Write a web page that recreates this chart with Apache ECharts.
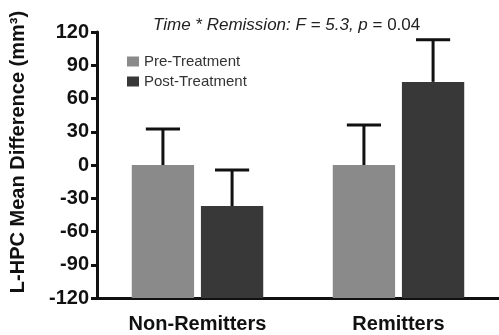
<!DOCTYPE html>
<html>
<head>
<meta charset="utf-8">
<script src="https://cdn.jsdelivr.net/npm/echarts@6/dist/echarts.min.js"></script>
<style>
  html, body { margin: 0; padding: 0; background: #fff; }
  #chart { width: 499px; height: 335px; }
</style>
</head>
<body>
<div id="chart"></div>
<script>
// Datos de la figura
const categories = ['Non-Remitters', 'Remitters'];
const preMean = [0, 0];
const preErr = [32.5, 36];
const postMean = [-37, 75];
const postErr = [32.5, 38];
const yTicks = [-120, -90, -60, -30, 0, 30, 60, 90, 120];

const yMin = yTicks[0];
const yMax = yTicks[yTicks.length - 1];

// Barras que arrancan desde el fondo del eje, con barra de error encima
function makeRender(offsetFactor) {
    return function (params, api) {
        const cat = api.value(0);
        const val = api.value(1);
        const err = api.value(2);
        const band = api.size([1, 0])[0];
        const barW = band * 0.31;
        const capW = band * 0.085;
        const cx = api.coord([cat, 0])[0] + offsetFactor * band;
        const yBase = api.coord([cat, yMin])[1];
        const yTop = api.coord([cat, val])[1];
        const yErr = api.coord([cat, val + err])[1];
        return {
            type: 'group',
            children: [
                {
                    type: 'rect',
                    shape: { x: cx - barW / 2, y: yTop, width: barW, height: yBase - yTop },
                    style: { fill: api.visual('color') }
                },
                {
                    type: 'line',
                    shape: { x1: cx, y1: yTop, x2: cx, y2: yErr },
                    style: { stroke: '#111', lineWidth: 3 }
                },
                {
                    type: 'line',
                    shape: { x1: cx - capW, y1: yErr, x2: cx + capW, y2: yErr },
                    style: { stroke: '#111', lineWidth: 3 }
                }
            ]
        };
    };
}

const chart = echarts.init(document.getElementById('chart'));

chart.setOption({
    animation: false,
    backgroundColor: '#fff',
    title: {
        left: 148,
        top: 12,
        text: '{i|Time * Remission: F = 5.3, p}{n| = 0.04}',
        textStyle: {
            fontWeight: 'normal',
            rich: {
                i: { fontFamily: 'Liberation Sans', fontStyle: 'italic', fontWeight: 'normal', fontSize: 17, color: '#222' },
                n: { fontFamily: 'Liberation Sans', fontWeight: 'normal', fontSize: 17, color: '#222' }
            }
        }
    },
    legend: {
        orient: 'vertical',
        left: 122,
        top: 49,
        icon: 'rect',
        itemWidth: 12,
        itemHeight: 10,
        itemGap: 5,
        textStyle: { fontFamily: 'Liberation Sans', fontSize: 15, color: '#333' },
        data: ['Pre-Treatment', 'Post-Treatment']
    },
    grid: { left: 97, right: 0, top: 32, bottom: 37, outerBoundsMode: 'none' },
    xAxis: {
        type: 'category',
        data: categories,
        axisLine: { onZero: false, lineStyle: { color: '#111', width: 3 } },
        axisTick: { alignWithLabel: true, length: 6, lineStyle: { color: '#111', width: 3 } },
        axisLabel: {
            margin: 16,
            fontFamily: 'Liberation Sans',
            fontWeight: 'bold',
            fontSize: 20,
            color: '#111'
        }
    },
    yAxis: {
        type: 'value',
        min: yMin,
        max: yMax,
        interval: 30,
        splitLine: { show: false },
        axisLine: { show: true, lineStyle: { color: '#111', width: 3 } },
        axisTick: { show: true, length: 6, lineStyle: { color: '#111', width: 3 } },
        axisLabel: {
            margin: 8,
            fontFamily: 'Liberation Sans',
            fontWeight: 'bold',
            fontSize: 20,
            color: '#111'
        }
    },
    graphic: [
        {
            type: 'text',
            x: 18,
            y: 152,
            rotation: Math.PI / 2,
            style: {
                text: 'L-HPC Mean Difference (mm³)',
                fontFamily: 'Liberation Sans',
                fontWeight: 'bold',
                fontSize: 20,
                fill: '#111',
                align: 'center',
                verticalAlign: 'middle'
            }
        }
    ],
    series: [
        {
            name: 'Pre-Treatment',
            type: 'custom',
            itemStyle: { color: '#8a8a8a' },
            renderItem: makeRender(-0.172),
            data: categories.map((_, i) => [i, preMean[i], preErr[i]])
        },
        {
            name: 'Post-Treatment',
            type: 'custom',
            itemStyle: { color: '#383838' },
            renderItem: makeRender(0.172),
            data: categories.map((_, i) => [i, postMean[i], postErr[i]])
        }
    ]
});
</script>
</body>
</html>
